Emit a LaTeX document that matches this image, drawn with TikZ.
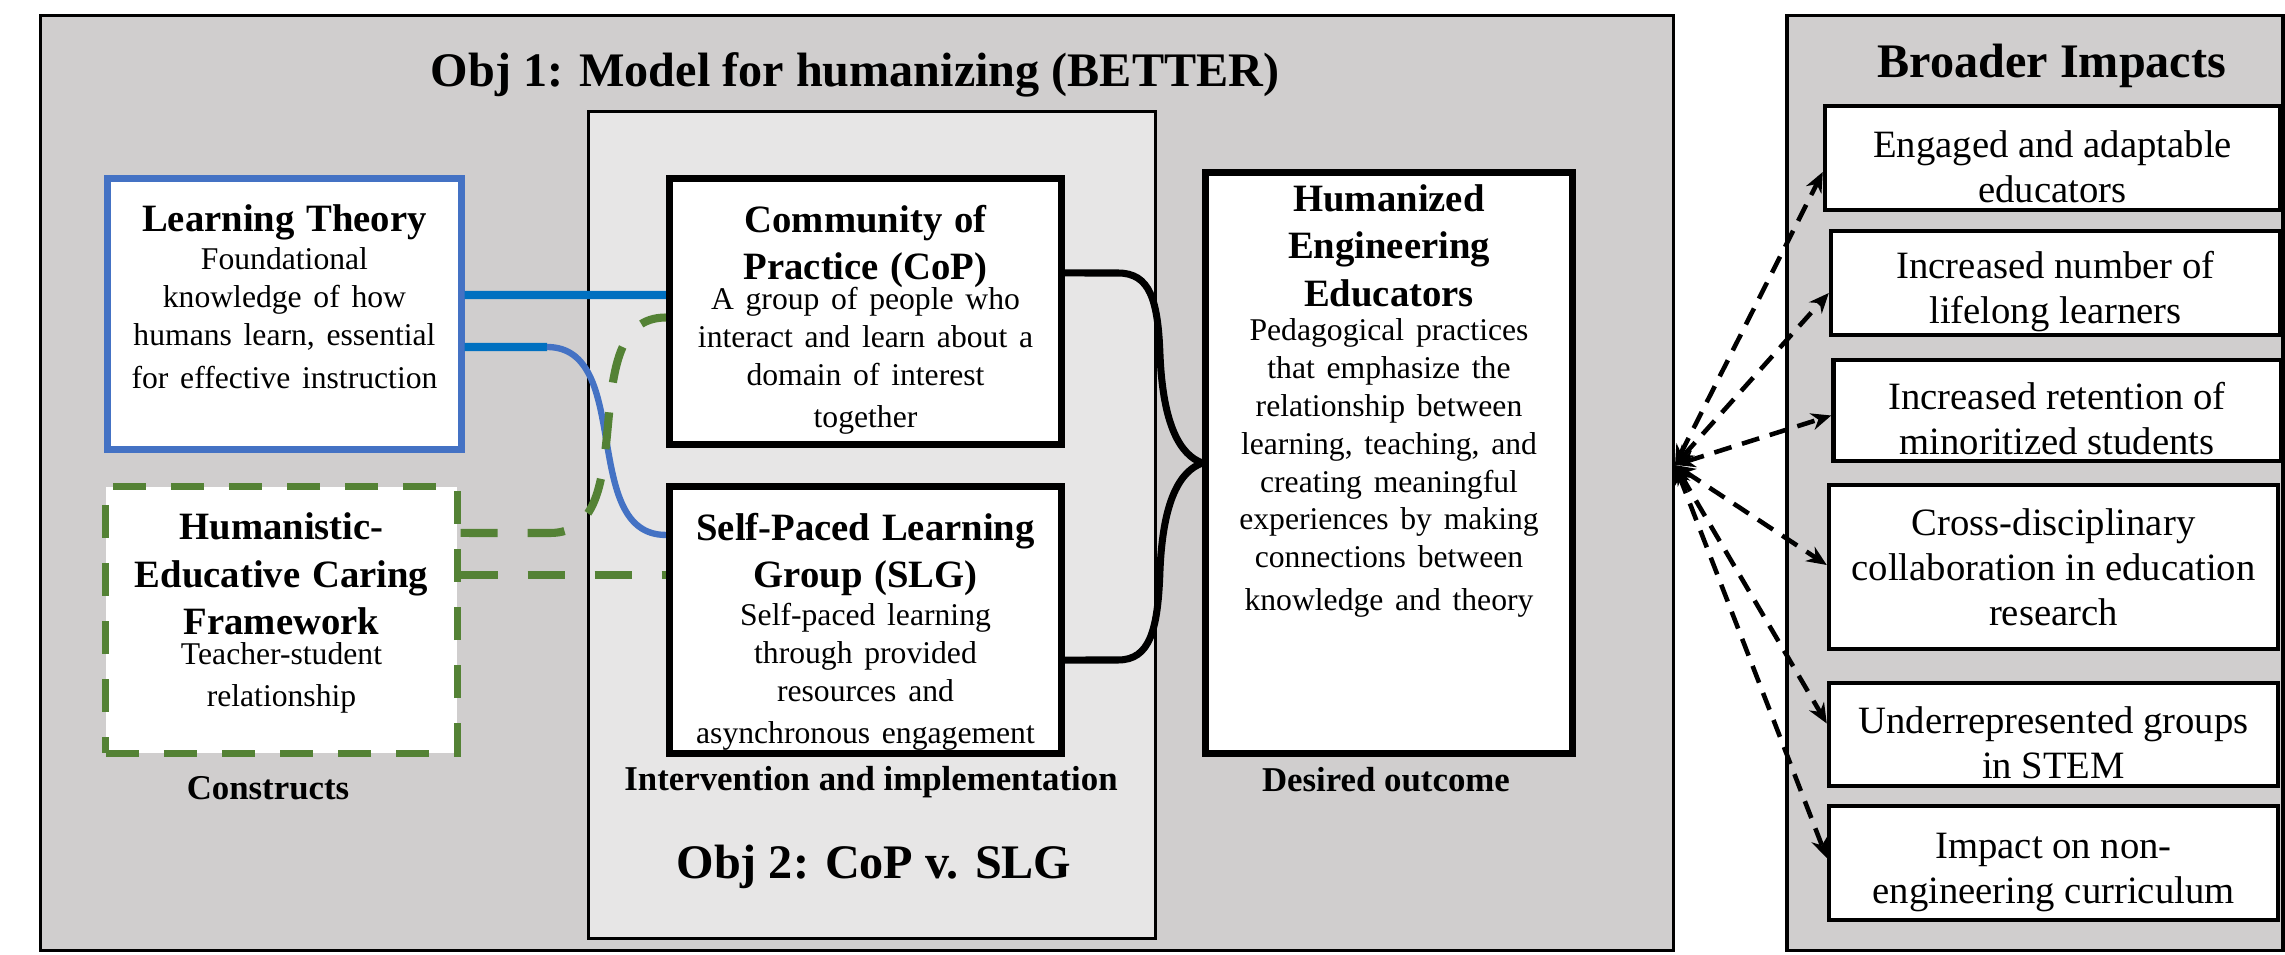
\documentclass[tikz,border=0pt]{standalone}
\usepackage{fontspec}
\setmainfont{Liberation Serif}
\usetikzlibrary{positioning,arrows.meta}

\definecolor{panelgray}{HTML}{D0CECE}
\definecolor{innergray}{HTML}{E7E6E6}
\definecolor{ltblue}{HTML}{4472C4}
\definecolor{linkblue}{HTML}{0070C0}
\definecolor{caregreen}{HTML}{548235}

\newcommand{\hdfont}{\fontsize{11}{13.4}\selectfont\bfseries}
\newcommand{\txfont}{\fontsize{9}{10.8}\selectfont}
\newcommand{\bigfont}{\fontsize{13.7}{16}\selectfont\bfseries}
\newcommand{\lblfont}{\fontsize{9.9}{12}\selectfont\bfseries}
\newcommand{\impfont}{\fontsize{11}{12.8}\selectfont}
\newcommand{\impstrut}{\rule{0pt}{0.44cm}}

\begin{document}
\begin{tikzpicture}[
        x=0.01cm, y=-0.01cm,
        panel/.style={
            rectangle,
            draw=black,
            fill=panelgray,
            line width=1pt,
            inner sep=0pt
        },
        stage/.style={
            panel,
            fill=innergray,
            line width=0.8pt
        },
        concept/.style={
            rectangle,
            draw=black,
            fill=white,
            line width=2pt,
            inner sep=0pt
        },
        theory/.style={
            concept,
            draw=ltblue
        },
        caring/.style={
            concept,
            draw=caregreen,
            dash pattern=on 0.33cm off 0.25cm
        },
        impact/.style={
            rectangle,
            draw=black,
            fill=white,
            line width=1.2pt,
            inner sep=0pt,
            align=center,
            font=\impfont
        },
        boxtext/.style={inner sep=0pt, align=center},
        heading/.style={inner sep=0pt, font=\bigfont},
        sublabel/.style={inner sep=0pt, font=\lblfont},
        tielink/.style={linkblue, line width=2.3pt},
        tiecurve/.style={ltblue, line width=1.8pt},
        carelink/.style={caregreen, line width=2.3pt, dash pattern=on 0.37cm off 0.3cm},
        bracearm/.style={black, line width=2pt},
        reach/.style={
            black,
            line width=1.3pt,
            dash pattern=on 0.18cm off 0.11cm,
            {Stealth[length=0.2cm,width=0.17cm]}-{Stealth[length=0.2cm,width=0.17cm]}
        }
    ]

    \useasboundingbox (0,0) rectangle (2285,955);

    % Paneles
    \node[panel, minimum width=16.32cm, minimum height=9.34cm] (obj1) at (857,483) {};
    \node[panel, minimum width=4.96cm, minimum height=9.34cm] (wider) at (2035,483) {};
    \node[stage, minimum width=5.66cm, minimum height=8.26cm] (impl) at (872,525) {};

    % Titulos
    \node[heading, anchor=base] (t1) at (855,87) {Obj 1: Model for humanizing (BETTER)};
    \node[heading, anchor=base] (t2) at (874,878) {Obj 2: CoP v. SLG};
    \node[heading, anchor=base] (t3) at (2052,78) {Broader Impacts};

    \node[sublabel, anchor=base] (l1) at (268,799) {Constructs};
    \node[sublabel, anchor=base] (l2) at (871,790) {Intervention and implementation};
    \node[sublabel, anchor=base] (l3) at (1386,791) {Desired outcome};

    % Cajas del modelo
    \node[theory, minimum width=3.53cm, minimum height=2.70cm] 
        (lt) at (284.5,314) {};
    \node[caring, minimum width=3.51cm, minimum height=2.66cm] 
        (hecf) at (281.5,620) {};
    \node[concept, minimum width=3.92cm, minimum height=2.65cm] 
        (cop) at (865.5,311.5) {};
    \node[concept, minimum width=3.92cm, minimum height=2.66cm] 
        (slg) at (865.5,620) {};
    \node[concept, minimum width=3.66cm, minimum height=5.80cm] 
        (hum) at (1389,463) {};

    \node[boxtext, text width=3.4cm, below=0.29cm of lt.north] (lttxt)
        {{\hdfont Learning Theory\par}\txfont Foundational\\knowledge of how\\humans learn, essential\\for effective instruction};
    \node[boxtext, text width=3.4cm, below=0.29cm of hecf.north] (hecftxt)
        {{\hdfont Humanistic-\\Educative Caring\\Framework\par}\vspace{-0.08cm}\txfont Teacher-student\\relationship};
    \node[boxtext, text width=3.8cm, below=0.29cm of cop.north] (coptxt)
        {{\hdfont Community of\\Practice (CoP)\par}\vspace{-0.08cm}\txfont A group of people who\\interact and learn about a\\domain of interest\\together};
    \node[boxtext, text width=3.8cm, below=0.29cm of slg.north] (slgtxt)
        {{\hdfont Self-Paced Learning\\Group (SLG)\par}\txfont Self-paced learning\\through provided\\resources and\\asynchronous engagement};
    \node[boxtext, text width=3.5cm, below=0.15cm of hum.north] (humtxt)
        {{\hdfont Humanized\\Engineering\\Educators\par}\vspace{-0.04cm}\txfont Pedagogical practices\\that emphasize the\\relationship between\\learning, teaching, and\\creating meaningful\\experiences by making\\connections between\\knowledge and theory};

    % Impactos
    \node[impact, minimum width=4.55cm, minimum height=1.04cm] (b1) at (2052.5,158)
        {\impstrut Engaged and adaptable\\educators};
    \node[impact, minimum width=4.49cm, minimum height=1.04cm] (b2) at (2055.5,283)
        {\impstrut Increased number of\\lifelong learners};
    \node[impact, minimum width=4.47cm, minimum height=1.01cm] (b3) at (2057,410.5)
        {\impstrut Increased retention of\\minoritized students};
    \node[impact, minimum width=4.49cm, minimum height=1.64cm] (b4) at (2053.5,567)
        {Cross-disciplinary\\collaboration in education\\research};
    \node[impact, minimum width=4.49cm, minimum height=1.03cm] (b5) at (2053.5,734.5)
        {\impstrut Underrepresented groups\\in STEM};
    \node[impact, minimum width=4.49cm, minimum height=1.14cm] (b6) at (2053.5,863)
        {\impstrut Impact on non-\\engineering curriculum};

    % Conectores de los constructos
    \coordinate (ltbend) at (547,347);
    \coordinate (carebend) at (550,533);

    \draw[tielink] ([yshift=0.19cm]lt.east) -- ([yshift=0.165cm]cop.west);
    \draw[tielink] ([yshift=-0.33cm]lt.east) -- (ltbend);
    \draw[tiecurve] (ltbend) to[out=0, in=180] ([yshift=0.85cm]slg.west);

    \draw[carelink] ([yshift=0.87cm]hecf.east) -- (carebend)
        to[out=0, in=180] ([yshift=-0.06cm]cop.west);
    \draw[carelink] ([yshift=0.45cm]hecf.east) -- ([yshift=0.45cm]slg.west);

    % Llave hacia el resultado
    \draw[bracearm] ([yshift=0.385cm]cop.east) -- (1118,273)
        .. controls (1150,273) and (1158,300) .. (1160,355)
        .. controls (1163,425) and (1180,455) .. (hum.west);
    \draw[bracearm] ([yshift=-0.40cm]slg.east) -- (1118,660)
        .. controls (1150,660) and (1158,630) .. (1160,570)
        .. controls (1163,500) and (1180,471) .. (hum.west);

    % Flechas a los impactos
    \coordinate (fan) at (1675,465);
    \foreach \b/\s in {b1/-0.14, b2/-0.10, b3/-0.05, b4/0.02, b5/0.11, b6/0.05}
        \draw[reach] (fan) -- ([yshift=\s cm]\b.west);

\end{tikzpicture}
\end{document}
